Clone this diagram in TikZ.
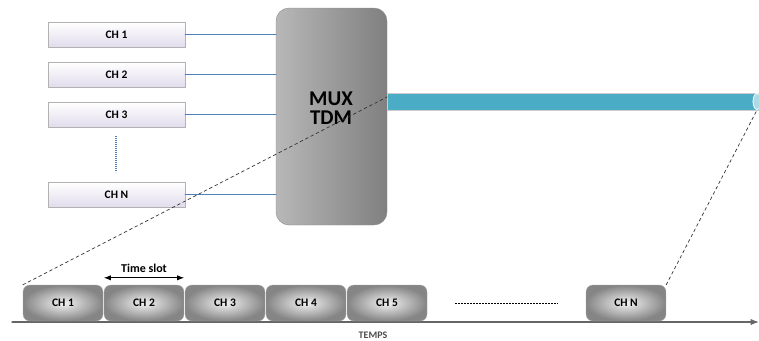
\documentclass[tikz,border=0pt]{standalone}
\usepackage{fontspec}
\setmainfont{Carlito}
\usetikzlibrary{arrows.meta}
\definecolor{lav}{RGB}{226,220,236}
\definecolor{linkblue}{RGB}{79,129,189}
\definecolor{barcyan}{RGB}{75,172,198}

\begin{document}
\begin{tikzpicture}[x=1pt,y=-1pt,>=Latex,line cap=round,line join=round,
  chbox/.style={draw=black!30,minimum width=137pt,minimum height=25pt,inner sep=0pt,
    top color=white,bottom color=lav,font=\bfseries\fontsize{11.5}{12}\selectfont},
  slot/.style={draw=black!35,rounded corners=7pt,minimum width=80pt,minimum height=36pt,inner sep=0pt,
    inner color=black!5,outer color=black!48,font=\bfseries\fontsize{11.5}{12}\selectfont},
  muxbox/.style={draw=black!45,rounded corners=13pt,minimum width=111pt,minimum height=217pt,
    left color=black!28,middle color=black!6,right color=black!50},
  link/.style={linkblue,line width=1.2pt},
  zoomline/.style={dashed,line width=0.7pt,black!80}]
  \useasboundingbox (0,0) rectangle (759,340);
  \node[muxbox] (mux) at (331.5,116.5) {};
  \node[font=\bfseries\fontsize{21}{19}\selectfont,align=center] (muxlbl) at (331,108) {MUX\\TDM};
  \foreach \i in {1,2,3}
    \node[chbox] (ch\i) at (116.5,{34.5+40*(\i-1)}) {CH \i};
  \node[chbox] (chn) at (116.5,194.5) {CH N};
  \foreach \c in {ch1,ch2,ch3,chn}
    \draw[link] (\c.east) -- (\c.east -| mux.west);
  \coordinate (vd0) at (116,136);
  \coordinate (vd1) at (116,172);
  \draw[linkblue,line width=2pt,line cap=butt,dash pattern=on 1.2pt off 0.8pt] (vd0) -- (vd1);
  % ligne multiplexee
  \node[fill=barcyan,draw=black!20,minimum width=372pt,minimum height=17pt,inner sep=0pt,anchor=west] (bar) at (387,101.5) {};
  \fill[barcyan!45,draw=white,line width=0.8pt] (757,101.5) ellipse[x radius=4pt,y radius=8pt];
  \draw[->,black!60,line width=1.2pt] (12,322) -- (759,322);
  \foreach \i in {1,...,5}
    \node[slot] (s\i) at ({63+81*(\i-1)},303) {CH \i};
  \node[slot] (sn) at (626,303) {CH N};
  \coordinate (dl0) at (455,303);
  \coordinate (dl1) at (558,303);
  \draw[line width=0.9pt,line cap=butt,dash pattern=on 2pt off 1pt] (dl0) -- (dl1);
  \coordinate (barin) at (387,97);
  \coordinate (barout) at (757,110);
  \draw[zoomline] (s1.north west) -- (barin);
  \draw[zoomline] (sn.north east) -- (barout);
  \draw[<->,line width=0.9pt] ([yshift=7pt]s2.north west) -- ([yshift=7pt]s2.north east)
    node[midway,above=1pt,font=\bfseries\fontsize{12}{13}\selectfont] (tslot) {Time slot};
  \node[font=\bfseries\fontsize{10}{11}\selectfont,black!70] (temps) at (373,335) {TEMPS};
\end{tikzpicture}
\end{document}
